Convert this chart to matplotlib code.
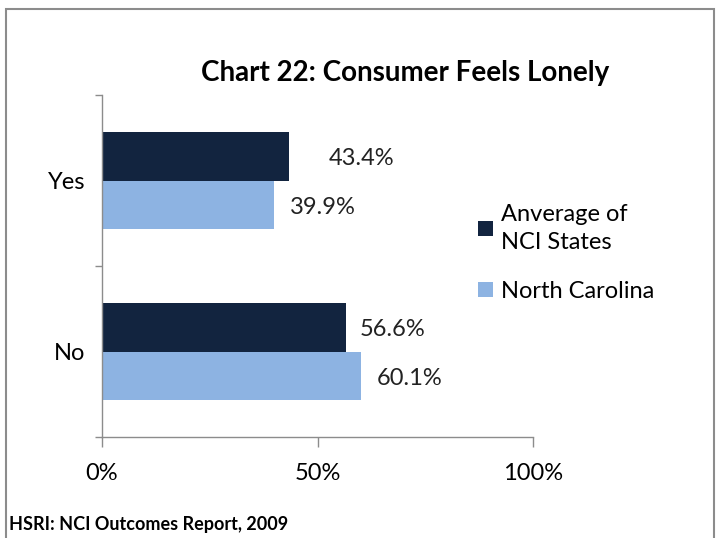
import matplotlib
matplotlib.use("Agg")
import matplotlib.pyplot as plt
import matplotlib.patches as mpatches

# データ
categories = ["No", "Yes"]
series_names = ["Anverage of\nNCI States", "North Carolina"]
avg_nci = [56.6, 43.4]
north_carolina = [60.1, 39.9]
x_ticks = [0, 50, 100]
x_tick_labels = ["0%", "50%", "100%"]

COLOR_DARK = "#12243F"
COLOR_LIGHT = "#8DB3E2"
COLOR_AXIS = "#8C8C8C"
FONT = "Lato"

plt.rcParams.update({"font.family": FONT})

fig = plt.figure(figsize=(7.21, 5.38), dpi=100)
ax = fig.add_axes([0.1415, 0.1877, 0.5978, 0.6357])

bar_h = 0.285
ypos = list(range(len(categories)))
dark = ax.barh([y + bar_h / 2 for y in ypos], avg_nci, height=bar_h,
               color=COLOR_DARK, label=series_names[0])
light = ax.barh([y - bar_h / 2 for y in ypos], north_carolina, height=bar_h,
                color=COLOR_LIGHT, label=series_names[1])

# 値ラベル
for rect, v in zip(dark, avg_nci):
    off = 40 if v < 50 else 14
    ax.annotate(f"{v:.1f}%", (rect.get_width(), rect.get_y() + rect.get_height() / 2),
                xytext=(off * 0.72, -2), textcoords="offset points",
                va="center", ha="left", fontsize=17, color="#222222")
for rect, v in zip(light, north_carolina):
    ax.annotate(f"{v:.1f}%", (rect.get_width(), rect.get_y() + rect.get_height() / 2),
                xytext=(16 * 0.72, -2), textcoords="offset points",
                va="center", ha="left", fontsize=17, color="#222222")

ax.set_xlim(0, 100)
ax.set_ylim(-0.5, 1.5)
ax.set_xticks(x_ticks)
ax.set_xticklabels(x_tick_labels, fontsize=17)
ax.set_yticks([-0.5, 0.5, 1.5], minor=False)
ax.set_yticklabels([])
ax.set_yticks(ypos, minor=True)
ax.set_yticklabels(categories, minor=True, fontsize=17)
ax.tick_params(axis="y", which="minor", length=0, pad=12)
ax.tick_params(axis="y", which="major", length=5, color=COLOR_AXIS, width=1)
ax.tick_params(axis="x", length=7, color=COLOR_AXIS, width=1, pad=12)

for s in ["top", "right"]:
    ax.spines[s].set_visible(False)
for s in ["left", "bottom"]:
    ax.spines[s].set_color(COLOR_AXIS)
    ax.spines[s].set_linewidth(1)

fig.text(0.562, 0.864, "Chart 22: Consumer Feels Lonely", ha="center", va="center",
         fontsize=20, fontweight="bold")
fig.text(0.012, 0.025, "HSRI: NCI Outcomes Report, 2009", ha="left", va="center",
         fontsize=13, fontweight="bold")

leg = fig.legend(handles=[dark, light], labels=series_names, loc="upper left",
                 bbox_to_anchor=(0.634, 0.66), frameon=False, fontsize=17,
                 handlelength=0.6, handleheight=0.6, handletextpad=0.35,
                 labelspacing=1.2)
leg.get_texts()[0].set_linespacing(1.4)

# 外枠
border = mpatches.Rectangle((6 / 721, -0.1), 708 / 721, 1.1 - 9 / 538,
                            transform=fig.transFigure, fill=False,
                            edgecolor=COLOR_AXIS, linewidth=1.5)
fig.patches.append(border)

fig.savefig("out.png", dpi=100)
